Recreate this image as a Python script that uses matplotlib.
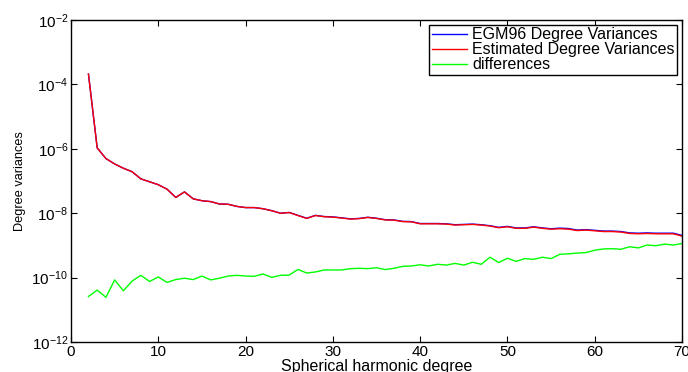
import matplotlib.pyplot as plt
import numpy as np

plt.rcParams['font.family'] = ['Liberation Sans', 'DejaVu Sans']

# spherical harmonic degrees 2..70
degrees = list(range(2, 71))

# estimated degree variances
estimated = [2.1e-4, 1.07e-6, 5.0e-7, 3.4e-7, 2.5e-7, 1.95e-7, 1.17e-7, 9.5e-8, 7.7e-8,
             5.6e-8, 3.1e-8, 4.6e-8, 2.8e-8, 2.45e-8, 2.3e-8, 1.94e-8, 1.9e-8, 1.63e-8,
             1.5e-8, 1.5e-8, 1.38e-8, 1.2e-8, 1.0e-8, 1.05e-8, 8.5e-9, 6.9e-9, 8.5e-9,
             7.8e-9, 7.6e-9, 7.1e-9, 6.6e-9, 6.8e-9, 7.4e-9, 6.9e-9, 6.2e-9, 6.1e-9,
             5.5e-9, 5.4e-9, 4.7e-9, 4.7e-9, 4.7e-9, 4.6e-9, 4.3e-9, 4.4e-9, 4.5e-9,
             4.3e-9, 4.0e-9, 3.55e-9, 3.8e-9, 3.4e-9, 3.4e-9, 3.7e-9, 3.4e-9, 3.2e-9,
             3.3e-9, 3.2e-9, 2.9e-9, 3.0e-9, 2.85e-9, 2.7e-9, 2.7e-9, 2.6e-9, 2.36e-9,
             2.3e-9, 2.35e-9, 2.3e-9, 2.3e-9, 2.3e-9, 1.95e-9]

# EGM96 degree variances (nearly identical, hidden under the red line)
egm96 = [2.1e-4, 1.07e-6, 5.0e-7, 3.4e-7, 2.5e-7, 1.95e-7, 1.17e-7, 9.5e-8, 7.7e-8,
         5.6e-8, 3.1e-8, 4.6e-8, 2.8e-8, 2.45e-8, 2.3e-8, 1.94e-8, 1.9e-8, 1.63e-8,
         1.5e-8, 1.5e-8, 1.38e-8, 1.2e-8, 1.0e-8, 1.06e-8, 8.6e-9, 7.0e-9, 8.6e-9,
         7.9e-9, 7.7e-9, 7.2e-9, 6.7e-9, 6.9e-9, 7.5e-9, 7.0e-9, 6.3e-9, 6.2e-9,
         5.6e-9, 5.5e-9, 4.8e-9, 4.8e-9, 4.8e-9, 4.7e-9, 4.4e-9, 4.5e-9, 4.6e-9,
         4.4e-9, 4.1e-9, 3.65e-9, 3.9e-9, 3.5e-9, 3.5e-9, 3.8e-9, 3.5e-9, 3.3e-9,
         3.45e-9, 3.35e-9, 3.0e-9, 3.1e-9, 2.95e-9, 2.8e-9, 2.8e-9, 2.7e-9, 2.45e-9,
         2.4e-9, 2.45e-9, 2.4e-9, 2.4e-9, 2.4e-9, 2.05e-9]

# differences
differences = [2.6e-11, 4.1e-11, 2.45e-11, 8.5e-11, 3.9e-11, 7.8e-11, 1.18e-10, 7.6e-11,
               1.05e-10, 7.1e-11, 8.7e-11, 9.6e-11, 8.7e-11, 1.12e-10, 8.5e-11, 9.6e-11,
               1.12e-10, 1.18e-10, 1.12e-10, 1.1e-10, 1.3e-10, 1.02e-10, 1.18e-10, 1.2e-10,
               1.8e-10, 1.39e-10, 1.5e-10, 1.73e-10, 1.73e-10, 1.73e-10, 1.9e-10, 1.95e-10,
               1.9e-10, 2.03e-10, 1.78e-10, 1.95e-10, 2.24e-10, 2.3e-10, 2.5e-10, 2.3e-10,
               2.6e-10, 2.45e-10, 2.77e-10, 2.45e-10, 3.0e-10, 2.6e-10, 4.3e-10, 2.95e-10,
               4.0e-10, 3.2e-10, 3.9e-10, 3.7e-10, 4.3e-10, 3.9e-10, 5.3e-10, 5.5e-10,
               5.8e-10, 6.0e-10, 7.1e-10, 7.8e-10, 7.9e-10, 7.6e-10, 9.1e-10, 8.4e-10,
               1.03e-9, 9.8e-10, 1.1e-9, 1.03e-9, 1.15e-9]

fig = plt.figure(figsize=(6.88, 3.72), dpi=100)
ax = fig.add_axes([0.1032, 0.0806, 0.8881, 0.8654])

ax.semilogy(degrees, egm96, color='b', lw=1, label='EGM96 Degree Variances')
ax.semilogy(degrees, estimated, color='r', lw=1, label='Estimated Degree Variances')
ax.semilogy(degrees, differences, color='#00ff00', lw=1, label='differences')

ax.set_xlim(0, 70)
ax.set_ylim(1e-12, 1e-2)
ax.set_xticks(range(0, 71, 10))
ax.set_yticks([1e-12, 1e-10, 1e-8, 1e-6, 1e-4, 1e-2])
ax.yaxis.set_minor_locator(plt.NullLocator())
ax.tick_params(direction='in', top=True, right=True, labelsize=11, length=4, pad=2)
for s in ax.spines.values():
    s.set_linewidth(1)

ax.set_xlabel('Spherical harmonic degree', fontsize=11.5, labelpad=0.5)
ax.set_ylabel('Degree variances', fontsize=9.2, labelpad=4)

leg = ax.legend(loc='upper right', fontsize=11.5, fancybox=False, framealpha=1,
                edgecolor='k', borderpad=0.15, labelspacing=0.0, handlelength=2.2,
                handletextpad=0.35, borderaxespad=0.3)
leg.get_frame().set_linewidth(1)

fig.savefig('out.png', dpi=100)
